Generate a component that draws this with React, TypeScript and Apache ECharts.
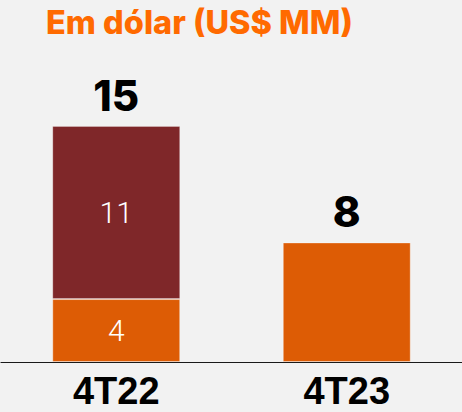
import React, { useEffect, useRef } from "react";
import * as echarts from "echarts";

const categories = ["4T22", "4T23"];
const lowerValues = [4, 7.6];
const upperValues: (number | null)[] = [11, null];
const totalLabels = ["15", "8"];
const titleText = "Em dólar (US$ MM)";

const ORANGE = "#DD5C05";
const DARK = "#7F2729";

export default function App() {
  const ref = useRef<HTMLDivElement>(null);
  useEffect(() => {
    if (!ref.current) return;
    const chart = echarts.init(ref.current, null, { renderer: "svg" });
    const topLabel = (txt: string) => ({
      show: true,
      position: "top",
      distance: 10,
      formatter: () => txt,
      color: "#000",
      fontFamily: "Inter",
      fontWeight: 800,
      fontSize: 42,
    });
    const innerLabel = {
      show: true,
      position: "inside",
      color: "#fff",
      fontFamily: "Roboto",
      fontWeight: 300,
      fontSize: 30,
    };
    chart.setOption({
      animation: false,
      backgroundColor: "#F2F2F2",
      graphic: [
        {
          type: "text",
          left: 46,
          top: 6,
          style: {
            text: titleText,
            fill: "#FF6A00",
            fontFamily: "Inter",
            fontWeight: 800,
            fontSize: 32.5,
          },
        },
      ],
      grid: { left: 1, top: 126, width: 465, height: 236 },
      xAxis: {
        type: "category",
        data: categories,
        axisLine: { lineStyle: { color: "#1a1a1a", width: 1.2 } },
        axisTick: { show: false },
        axisLabel: {
          color: "#000",
          fontFamily: "Liberation Sans",
          fontWeight: "bold",
          fontSize: 38,
          lineHeight: 30,
          margin: 14,
        },
      },
      yAxis: { type: "value", min: 0, max: 15, show: false, splitLine: { show: false } },
      series: [
        {
          type: "bar",
          stack: "a",
          barWidth: "55.5%",
          itemStyle: { color: ORANGE, borderColor: "rgba(255,255,255,0.35)", borderWidth: 1 },
          data: lowerValues.map((v, i) =>
            upperValues[i] == null
              ? { value: v, label: topLabel(totalLabels[i]) }
              : { value: v, label: { ...innerLabel, formatter: String(Math.round(v)) } }
          ),
        },
        {
          type: "bar",
          stack: "a",
          barWidth: "55.5%",
          itemStyle: { color: DARK, borderColor: "rgba(255,255,255,0.25)", borderWidth: 1 },
          data: upperValues.map((v) =>
            v == null ? "-" : { value: v, label: { ...innerLabel, formatter: String(v) } }
          ),
        },
        {
          type: "bar",
          stack: "a",
          barWidth: "55.5%",
          itemStyle: { color: "transparent" },
          data: upperValues.map((v, i) =>
            v == null ? "-" : { value: 0, label: topLabel(totalLabels[i]) }
          ),
        },
      ],
    });
    return () => chart.dispose();
  }, []);
  return <div ref={ref} style={{ width: 462, height: 412, position: "absolute", left: 0, top: 0 }} />;
}
